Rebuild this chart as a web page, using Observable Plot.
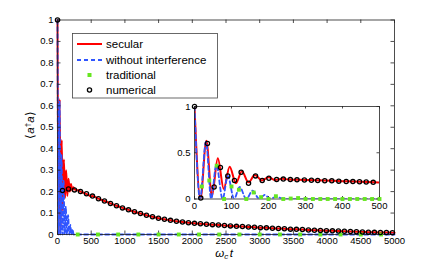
<!DOCTYPE html>
<html><head><meta charset="utf-8">
<script src="https://cdn.jsdelivr.net/npm/d3@7"></script>
<script src="https://cdn.jsdelivr.net/npm/@observablehq/plot@0.6"></script>
<style>
body{margin:0;background:#fff}
#wrap{position:relative;width:436px;height:263px}
#wrap svg{position:absolute}
</style>
</head><body><div id="wrap"></div>
<script>
const FONT = '"Liberation Sans", Arial, Helvetica, sans-serif';

// tick labels
const xTicks = [0,500,1000,1500,2000,2500,3000,3500,4000,4500,5000];
const yTicks = [0,0.1,0.2,0.3,0.4,0.5,0.6,0.7,0.8,0.9,1];
const xTicksIn = [0,100,200,300,400,500];
const yTicksIn = [0,0.5,1];

// secular: early oscillation extrema
const secT = [0,16,32,47,63,79,95,112,128,146,163,182,200,218,236,255,300,350,400,450,500];
const secV = [1,0,0.63,0.03,0.44,0.11,0.35,0.17,0.3,0.18,0.26,0.2,0.235,0.205,0.22,0.21,0.206,0.199,0.193,0.186,0.178];
const secEndT = 5000, secEndV = 0.0082;

// without interference: oscillation extrema
const noIntT = [0,15,31,45,59,76,90,107,122,140,157,175,190,205,222,240,5000];
const noIntV = [1,0,0.62,0,0.37,0,0.25,0,0.13,0,0.09,0,0.045,0,0.025,0,0];

// traditional (inset samples)
const tradInT = [20,40,60,80,100,120,140,160,180,200,220,240,260,280,300,320,340,360,380,400,420,440,460,480,500];
const tradInV = [0.135,0.2,0.36,0,0.135,0.1,0,0.07,0.02,0,0.03,0,0.005,0.01,0,0,0,0,0,0,0,0,0,0,0];
// traditional (main samples)
const tradMainT = [300,600,900,1200,1500,1800,2100,2400,2700,3000,3300,3600,3900,4200,4500,4800];
const tradMainV = [0,0,0,0,0,0,0,0,0,0,0,0,0,0,0,0];

// numerical (inset samples)
const numInT = [0,17,35,53,70,90,108,126,146,165,183,201,222,240,259,277,297,316,333,352,371,390,410,428,446,464,483];
const numInV = [1,0.01,0.6,0.13,0.34,0.25,0.2,0.29,0.17,0.25,0.2,0.225,0.21,0.215,0.21,0.207,0.205,0.203,0.2,0.198,0.196,0.193,0.19,0.188,0.186,0.183,0.18];
// numerical (main samples)
const numMainT = [0,74,163,252,341,430,519,608,697,786,875,964,1053,1142,1231,1320,1409,1498,1587,1676,1765,1854,1943,2032,2121,2210,2299,2388,2477,2566,2655,2744,2833,2922,3011,3100,3189,3278,3367,3456,3545,3634,3723,3812,3901,3990,4079,4168,4257,4346,4435,4524,4613,4702,4791,4880,4969];
const numMainV = [1,0.205,0.212,0.208,0.2,0.19,0.179,0.167,0.156,0.145,0.134,0.124,0.115,0.106,0.098,0.09,0.083,0.076,0.071,0.066,0.062,0.058,0.055,0.052,0.05,0.048,0.046,0.044,0.042,0.04,0.038,0.037,0.035,0.034,0.032,0.031,0.029,0.028,0.027,0.025,0.024,0.023,0.021,0.02,0.019,0.018,0.017,0.016,0.015,0.014,0.013,0.012,0.011,0.01,0.0095,0.009,0.0085];

const zip = (T,V) => T.map((t,i)=>({t, v:V[i]}));
const numMain = zip(numMainT, numMainV);
const secular = zip(secT, secV).concat(numMain.filter(d=>d.t>500)).concat([{t:secEndT, v:secEndV}]);
const noInt = zip(noIntT, noIntV);
const tradMain = zip(tradMainT, tradMainV);
const tradIn = zip(tradInT, tradInV);
const numIn = zip(numInT, numInV);

const RED = "#ff0000", BLUE = "#2f55ff", GREEN = "#66e620";

function frameTicks(xt, yt, iw, ih, len) {
  return [
    Plot.tickX(xt, {x:d=>d, insetTop: ih-len, stroke:"#222", strokeWidth:0.8}),
    Plot.tickX(xt, {x:d=>d, insetBottom: ih-len, stroke:"#222", strokeWidth:0.8}),
    Plot.tickY(yt, {y:d=>d, insetRight: iw-len, stroke:"#222", strokeWidth:0.8}),
    Plot.tickY(yt, {y:d=>d, insetLeft: iw-len, stroke:"#222", strokeWidth:0.8})
  ];
}

// main plot
const mW=436, mH=263, mL=57, mR=42, mT=19.5, mB=29;
const miw = mW-mL-mR, mih = mH-mT-mB;
const main = Plot.plot({
  width:mW, height:mH, marginLeft:mL, marginRight:mR, marginTop:mT, marginBottom:mB,
  style:{fontFamily:FONT, fontSize:"9.5px", background:"transparent", color:"#000", overflow:"visible"},
  x:{domain:[0,5000], label:null}, y:{domain:[0,1], label:null},
  marks:[
    Plot.axisX({ticks:xTicks, tickSize:0, tickPadding:3, tickFormat:d=>String(d), label:null}),
    Plot.axisY({ticks:yTicks, tickSize:0, tickPadding:4, tickFormat:d=>String(d), label:null}),
    Plot.line(secular, {x:"t", y:"v", stroke:RED, strokeWidth:2, curve:"monotone-x"}),
    Plot.line(noInt, {x:"t", y:"v", stroke:BLUE, strokeWidth:1.8, strokeDasharray:"4,3", curve:"monotone-x"}),
    ...frameTicks(xTicks, yTicks, miw, mih, 3.5),
    Plot.frame({stroke:"#222", strokeWidth:0.8}),
    Plot.dot(tradMain, {x:"t", y:"v", symbol:"square", r:2.2, fill:GREEN, stroke:"none"}),
    Plot.dot(numMain, {x:"t", y:"v", r:2.1, stroke:"#000", strokeWidth:1.3, fill:"none"})
  ]
});
main.style.left = "0px"; main.style.top = "0px";

// legend
const svg = d3.select(main);
const lg = svg.append("g").attr("font-family", FONT).attr("font-size", 11.5).attr("fill","#000").attr("text-anchor","start");
lg.append("rect").attr("x",72.5).attr("y",33.5).attr("width",145).attr("height",64.5)
  .attr("fill","white").attr("stroke","#444").attr("stroke-width",0.8);
lg.append("line").attr("x1",77).attr("x2",102).attr("y1",44).attr("y2",44).attr("stroke",RED).attr("stroke-width",2);
lg.append("line").attr("x1",77).attr("x2",102).attr("y1",60).attr("y2",60).attr("stroke",BLUE).attr("stroke-width",1.8).attr("stroke-dasharray","4,3");
lg.append("rect").attr("x",87.5).attr("y",73).attr("width",4).attr("height",4).attr("fill",GREEN);
lg.append("circle").attr("cx",89.5).attr("cy",90).attr("r",2.1).attr("fill","none").attr("stroke","#000").attr("stroke-width",1.3);
[["secular",48],["without interference",64],["traditional",79],["numerical",94]].forEach(([s,y])=>{
  lg.append("text").attr("x",106).attr("y",y).attr("text-anchor","start").text(s);
});

// axis labels
const yl = svg.append("text").attr("font-family", FONT).attr("font-size", 11.5)
  .attr("text-anchor","middle").attr("transform","translate(34,125) rotate(-90)");
yl.append("tspan").text("\u27E8");
yl.append("tspan").attr("font-style","italic").text("a");
yl.append("tspan").attr("font-size",8).attr("dy",-4).text("\u2020");
yl.append("tspan").attr("font-style","italic").attr("dy",4).text("a");
yl.append("tspan").text("\u27E9");

const xl = svg.append("text").attr("font-family", FONT).attr("font-size", 11.5)
  .attr("text-anchor","middle").attr("x",224).attr("y",257);
xl.append("tspan").attr("font-style","italic").text("\u03C9");
xl.append("tspan").attr("font-style","italic").attr("font-size",8).attr("dy",2).text("c");
xl.append("tspan").attr("font-style","italic").attr("dy",-2).attr("dx",1.5).text("t");

// inset plot
const iW=219, iH=114, iL=24, iR=10, iT=6, iB=15.5;
const iiw = iW-iL-iR, iih = iH-iT-iB;
const inset = Plot.plot({
  width:iW, height:iH, marginLeft:iL, marginRight:iR, marginTop:iT, marginBottom:iB,
  style:{fontFamily:FONT, fontSize:"9.5px", background:"transparent", color:"#000", overflow:"visible"},
  x:{domain:[0,500], label:null}, y:{domain:[0,1], label:null},
  marks:[
    Plot.frame({fill:"white", stroke:"none"}),
    Plot.axisX({ticks:xTicksIn, tickSize:0, tickPadding:3, tickFormat:d=>String(d), label:null}),
    Plot.axisY({ticks:yTicksIn, tickSize:0, tickPadding:4, tickFormat:d=>String(d), label:null}),
    Plot.line(secular, {x:"t", y:"v", stroke:RED, strokeWidth:2, curve:"monotone-x", clip:true}),
    Plot.line(noInt, {x:"t", y:"v", stroke:BLUE, strokeWidth:1.8, strokeDasharray:"4,3", curve:"monotone-x", clip:true}),
    ...frameTicks(xTicksIn, yTicksIn, iiw, iih, 2.5),
    Plot.frame({stroke:"#222", strokeWidth:0.8}),
    Plot.dot(tradIn, {x:"t", y:"v", symbol:"square", r:2.2, fill:GREEN, stroke:"none"}),
    Plot.dot(numIn, {x:"t", y:"v", r:2.1, stroke:"#000", strokeWidth:1.3, fill:"none"})
  ]
});
inset.style.left = (194-iL)+"px"; inset.style.top = (106-iT)+"px";

const wrap = document.getElementById("wrap");
wrap.appendChild(main);
wrap.appendChild(inset);
</script>
</body></html>
